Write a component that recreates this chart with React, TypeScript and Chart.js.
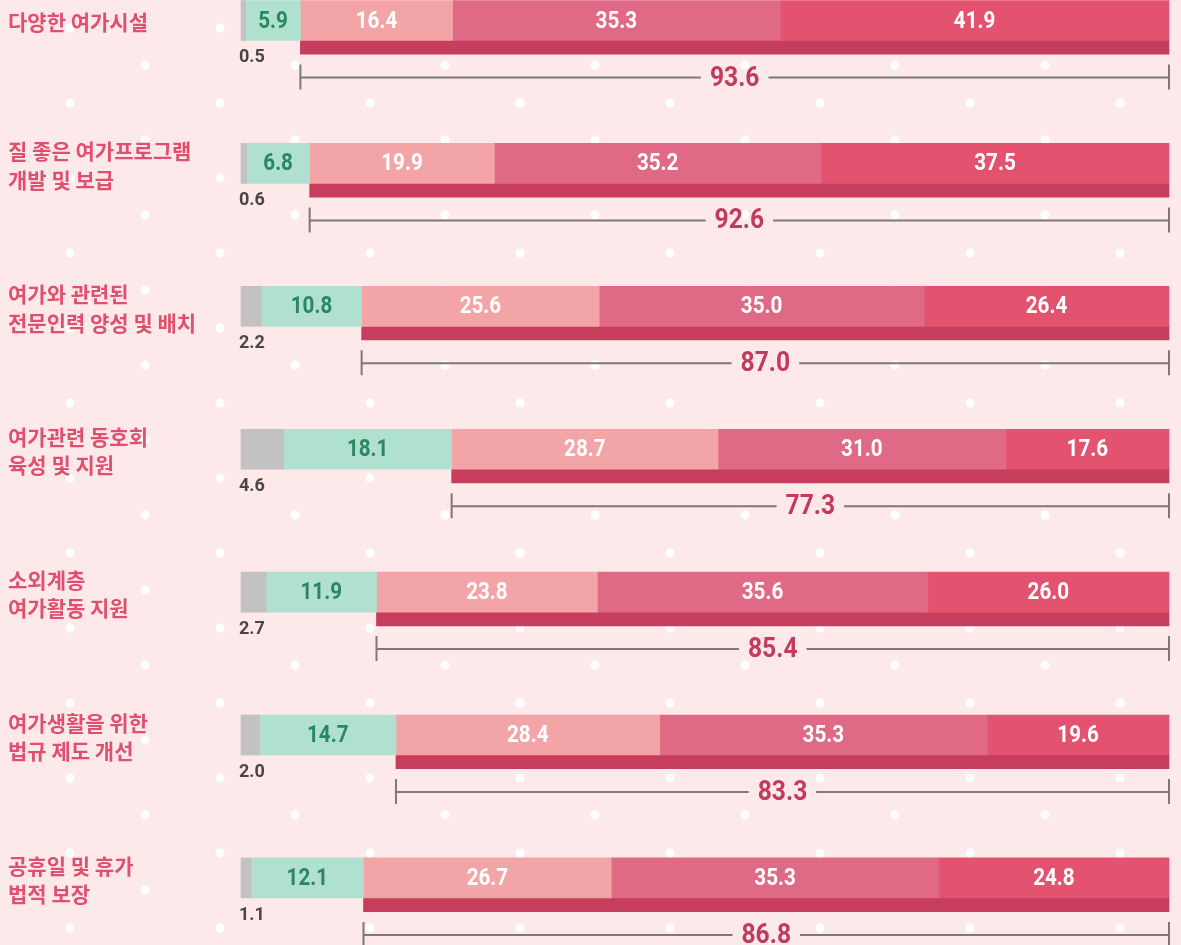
import React, { useEffect, useRef } from "react";
import { Chart, registerables } from "chart.js";

Chart.register(...registerables);

const CATEGORIES: (string | string[])[] = [
  "다양한 여가시설",
  ["질 좋은 여가프로그램", "개발 및 보급"],
  ["여가와 관련된", "전문인력 양성 및 배치"],
  ["여가관련 동호회", "육성 및 지원"],
  ["소외계층", "여가활동 지원"],
  ["여가생활을 위한", "법규 제도 개선"],
  ["공휴일 및 휴가", "법적 보장"],
];
const GRAY = [0.5, 0.6, 2.2, 4.6, 2.7, 2.0, 1.1];
const MINT = [5.9, 6.8, 10.8, 18.1, 11.9, 14.7, 12.1];
const LIGHT = [16.4, 19.9, 25.6, 28.7, 23.8, 28.4, 26.7];
const MEDIUM = [35.3, 35.2, 35.0, 31.0, 35.6, 35.3, 35.3];
const DARK = [41.9, 37.5, 26.4, 17.6, 26.0, 19.6, 24.8];
const TOTALS = [93.6, 92.6, 87.0, 77.3, 85.4, 83.3, 86.8];

const NUM_FONT = "Roboto, 'Noto Sans', sans-serif";
const KR_FONT = "'Noto Sans CJK KR', sans-serif";
const THIN_OFFSET = 0.187;

function drawText(ctx: any, text: string, x: number, y: number, font: string, color: string, align: string, sx: number) {
  ctx.save();
  ctx.translate(x, y);
  ctx.scale(sx, 1);
  ctx.font = font;
  ctx.fillStyle = color;
  ctx.textAlign = align;
  ctx.textBaseline = "middle";
  ctx.fillText(text, 0, 0);
  ctx.restore();
}

const labelPlugin = {
  id: "labels",
  afterDatasetsDraw(chart: any) {
    const ctx = chart.ctx;
    const ys = chart.scales.y;
    const colors = ["", "#2c8660", "#ffffff", "#ffffff", "#ffffff"];
    ctx.save();
    for (let i = 0; i < CATEGORIES.length; i++) {
      const yc = ys.getPixelForValue(i);
      for (let d = 1; d <= 4; d++) {
        const el: any = chart.getDatasetMeta(d).data[i];
        const v = chart.data.datasets[d].data[i].x;
        drawText(ctx, v.toFixed(1), (el.x + el.base) / 2, yc + 1, `bold 24px ${NUM_FONT}`, colors[d], "center", 0.86);
      }
      const g: any = chart.getDatasetMeta(0).data[i];
      drawText(ctx, GRAY[i].toFixed(1), Math.min(g.base, g.x) - 2, yc + 37, `bold 19px ${NUM_FONT}`, "#4b4646", "left", 0.95);
      const t: any = chart.getDatasetMeta(5).data[i];
      const x0 = Math.min(t.base, t.x);
      const x1 = Math.max(t.base, t.x);
      const ly = yc + 57;
      const label = TOTALS[i].toFixed(1);
      const totalFont = `bold 28px ${NUM_FONT}`;
      ctx.font = totalFont;
      const w = ctx.measureText(label).width * 0.88;
      const mid = (x0 + x1) / 2;
      ctx.strokeStyle = "#7f7878";
      ctx.lineWidth = 2;
      ctx.beginPath();
      ctx.moveTo(x0, ly);
      ctx.lineTo(mid - w / 2 - 9, ly);
      ctx.moveTo(mid + w / 2 + 9, ly);
      ctx.lineTo(x1, ly);
      ctx.moveTo(x0, ly - 13);
      ctx.lineTo(x0, ly + 12);
      ctx.moveTo(x1, ly - 13);
      ctx.lineTo(x1, ly + 12);
      ctx.stroke();
      drawText(ctx, label, mid, ly + 1, totalFont, "#c23a5c", "center", 0.88);
    }
    ctx.restore();
  },
};

export default function App() {
  const ref = useRef<HTMLCanvasElement | null>(null);
  useEffect(() => {
    document.body.style.margin = "0";
    const rows = (arr: number[]) => arr.map((v, i) => ({ x: v, y: i }));
    const chart = new Chart(ref.current as HTMLCanvasElement, {
      type: "bar",
      data: {
        datasets: [
          { label: "gray", data: rows(GRAY), backgroundColor: "#c3c1c1", barThickness: 40 },
          { label: "mint", data: rows(MINT), backgroundColor: "#b0e0d0", barThickness: 40 },
          { label: "light", data: rows(LIGHT), backgroundColor: "#f3a4a7", barThickness: 40 },
          { label: "medium", data: rows(MEDIUM), backgroundColor: "#e06a85", barThickness: 40 },
          { label: "dark", data: rows(DARK), backgroundColor: "#e3536f", barThickness: 40 },
          {
            label: "total",
            stack: "total",
            data: TOTALS.map((v, i) => ({ x: [100 - v, 100], y: i + THIN_OFFSET })),
            backgroundColor: "#c63d5e",
            barThickness: 14,
          },
        ] as any,
      },
      options: {
        indexAxis: "y",
        animation: false,
        responsive: true,
        maintainAspectRatio: false,
        datasets: { bar: { grouped: false, borderWidth: 0, clip: false } as any },
        layout: { padding: { left: 8, right: 12, top: 0, bottom: 0 } },
        plugins: { legend: { display: false }, tooltip: { enabled: false } },
        scales: {
          x: { type: "linear", min: 0, max: 100, stacked: true, display: false },
          y: {
            type: "linear",
            reverse: true,
            offset: false,
            min: -0.1435,
            max: 6.4695,
            grid: { display: false },
            border: { display: false },
            afterBuildTicks: (scale: any) => {
              scale.ticks = CATEGORIES.map((_, i) => ({ value: i }));
            },
            afterFit: (scale: any) => {
              scale.width = 233;
              scale.paddingTop = 0;
              scale.paddingBottom = 0;
            },
            ticks: {
              crossAlign: "far",
              labelOffset: 2,
              color: "#e0506e",
              font: { family: KR_FONT, size: 21, weight: "bold", lineHeight: 1.36 },
              callback: (_v: any, idx: number) => CATEGORIES[idx],
            },
          } as any,
        },
      },
      plugins: [labelPlugin],
    });
    return () => chart.destroy();
  }, []);

  return (
    <div
      style={{
        position: "fixed",
        left: 0,
        top: 0,
        width: 1181,
        height: 945,
        backgroundColor: "#fde9ea",
        backgroundImage:
          "radial-gradient(circle, #ffffff 4px, rgba(255,255,255,0) 5px), radial-gradient(circle, #ffffff 4px, rgba(255,255,255,0) 5px)",
        backgroundSize: "150px 75px, 150px 75px",
        backgroundPosition: "-5px -9.5px, 70px 27.5px",
      }}
    >
      <canvas ref={ref} />
    </div>
  );
}
